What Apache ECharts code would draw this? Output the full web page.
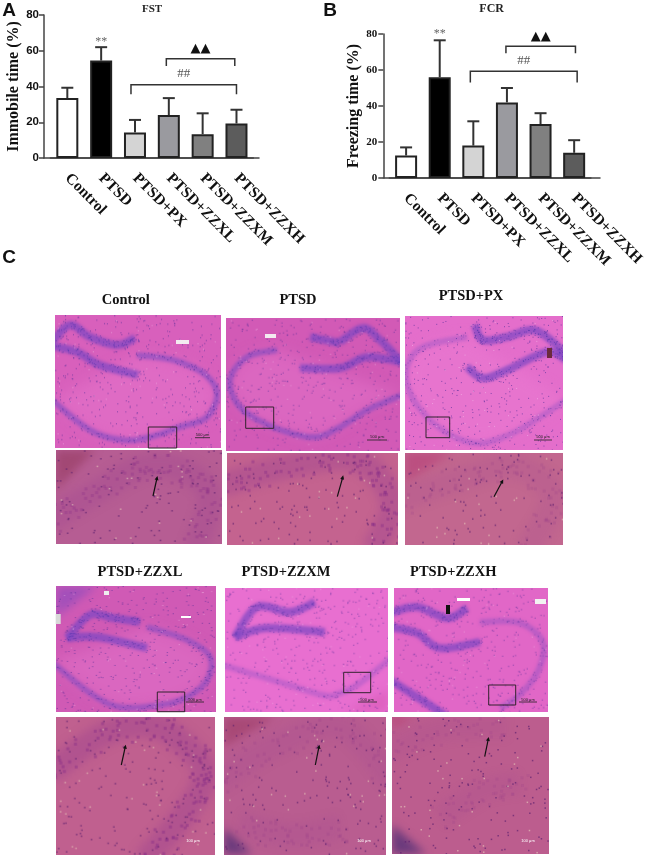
<!DOCTYPE html>
<html>
<head>
<meta charset="utf-8">
<title>FST / FCR</title>
<style>
html, body { margin: 0; padding: 0; background: #fff; }
#grafico { width: 647px; height: 856px; }
</style>
<script src="https://cdn.jsdelivr.net/npm/echarts@6/dist/echarts.min.js"></script>
</head>
<body>
<div id="grafico"></div>
<script>
// values
const groups = ['Control', 'PTSD', 'PTSD+PX', 'PTSD+ZZXL', 'PTSD+ZZXM', 'PTSD+ZZXH'];
const barColors = ['#ffffff', '#000000', '#d4d4d4', '#9a9a9f', '#808080', '#5c5c5c'];

const fstMean = [33.5, 54.5, 14.3, 24, 13.3, 19.3];
const fstUpper = [39.3, 62, 21.3, 33.5, 25, 27];
const fcrMean = [12.5, 56, 18, 42, 30, 14];
const fcrUpper = [17, 76.5, 31.5, 50, 36, 21];

const yTicks = [0, 20, 40, 60, 80];

// significance brackets: group from, group to, top value, foot value, label, label value
const fstBrackets = [[2, 5, 41, 35.6, '##', 47], [3, 5, 55.5, 51.5, '▲▲', 61]];
const fcrBrackets = [[2, 5, 59.3, 53, '##', 65.4], [3, 5, 73.2, 69.3, '▲▲', 78.5]];
const fstBracketNudge = [[-4, 0], [-2.5, -1.7]];
const fcrBracketNudge = [[-3, 3], [-1, 1.3]];
const fstStars = [[1, 65.5]];
const fcrStars = [[1, 80.7]];

// ---- micrograph panels (painted stand-ins for the photographs) ----
const panelTitles = [
  ['Control', 125.7, 300], ['PTSD', 298, 300], ['PTSD+PX', 471, 296],
  ['PTSD+ZZXL', 140, 572], ['PTSD+ZZXM', 286, 572], ['PTSD+ZZXH', 453.3, 572]
];
const overviewPanels = [
  { box: [55, 315.3, 220.7, 448.3], color: '#d860bc', inset: [148.3, 427, 176.7, 448], glow: true,
    blades: [[[52,342],[70,325],[90,337],[117,345],[135,338]], [[52,346],[77,352],[100,365],[138,375]]],
    arc: [[137,355],[173,360],[203,373],[217,393],[207,417],[180,427],[150,437],[123,440],[90,430],[52,400]],
    arcAlpha: 0.6, bar: [195, 210, 437.7], tag: [202.5, 434.5, '500 μm'] },
  { box: [225.7, 317.7, 399, 450.3], color: '#d25ab6', inset: [245.7, 407, 273.7, 428.3], glow: true,
    blades: [[[340,342],[363,328],[380,340],[402,362]], [[300,368],[340,368],[367,357],[402,362]], [[310,337],[340,343]]],
    arc: [[277,350],[247,357],[230,380],[240,407],[273,427],[313,437],[340,427],[367,410],[402,395]],
    arcAlpha: 0.6, bar: [367, 387, 440], tag: [377, 437, '500 μm'] },
  { box: [405, 316, 562.7, 449.7], color: '#e46ecb', inset: [426, 417, 449.7, 437.7], glow: true,
    blades: [[[475,325],[483,340],[507,337],[533,330],[553,342],[566,356]], [[467,367],[483,378],[507,370],[547,352],[566,360]]],
    arc: [[467,337],[423,347],[407,367],[410,393],[430,420],[457,438],[483,443],[513,433],[540,417],[566,400]],
    arcAlpha: 0.32, bar: [534, 552, 440], tag: [543, 437, '500 μm'] },
  { box: [55.7, 586, 215, 711.7], color: '#d05ab5', inset: [157.3, 692, 184.7, 711.7], glow: true,
    blades: [[[67,638],[90,615],[113,618],[140,622]], [[67,638],[97,637],[147,648]]],
    arc: [[147,627],[187,640],[210,657],[207,680],[187,697],[160,705],[120,707],[90,693],[52,662]],
    arcAlpha: 0.55, patch: [[[56,586],[97,586],[56,617]], '#a350ba'], bar: [186, 204, 702], tag: [195, 699.5, '500 μm'] },
  { box: [225.3, 587.7, 387.7, 711.7], color: '#e86fd0', inset: [343.7, 672.3, 370.7, 692.7],
    blades: [[[235,637],[257,607],[290,612],[315,602]], [[235,637],[267,628],[325,632]]],
    arc: [[222,665],[273,680],[323,695],[340,693],[360,683],[392,657]],
    arcAlpha: 0.32, patch: [[[345,712],[388,690],[388,712]], '#de62c0'], bar: [358, 377, 702], tag: [367, 699.5, '500 μm'] },
  { box: [393.7, 587.7, 547, 711.7], color: '#e167c7', inset: [488.7, 685, 515.7, 705],
    blades: [[[390,613],[417,607],[447,618],[467,608]], [[390,627],[417,633],[440,648],[480,642]], [[390,680],[417,697],[445,715]]],
    arc: [[480,622],[520,623],[543,643],[537,673],[517,697],[500,708]],
    arcAlpha: 0.38, bar: [519, 537, 702], tag: [528, 699.5, '500 μm'] }
];
const zoomPanels = [
  { box: [55.7, 450, 221.7, 544], color: '#b65d93',
    bands: [[[50,520],[100,490],[143,467],[183,470],[210,497],[195,550]]], bandAlpha: 0.55,
    patch: [[[56,450],[95,450],[56,490]], '#a24874'], arrow: [153, 496, 157, 478] },
  { box: [227, 452.7, 398, 544], color: '#c4638f',
    bands: [[[222,485],[273,470],[340,458],[373,470],[392,507],[373,550]]], bandAlpha: 0.8,
    arrow: [337.3, 496.7, 342.7, 477.3] },
  { box: [405, 452.7, 562.7, 544], color: '#c2678f',
    bands: [[[400,500],[467,477],[517,467],[553,497],[527,550]]], bandAlpha: 0.3,
    patch: [[[405,453],[452,453],[405,482]], '#bb4f80'], arrow: [494, 496.7, 502.3, 481.3] },
  { box: [55.7, 716.7, 214, 854], color: '#c0608f',
    bands: [[[50,772],[107,733],[157,727],[197,757],[203,783],[180,820],[145,860]]], bandAlpha: 0.85,
    arrow: [121.3, 765, 125.3, 746.7], tag: [193, 841, '100 μm'] },
  { box: [224, 716.7, 386, 854], color: '#b95d90',
    bands: [[[218,782],[273,747],[340,727],[392,780]], [[240,823],[290,835],[340,827]]], bandAlpha: 0.3,
    patch: [[[224,717],[275,717],[224,747]], '#a84976'], patch2: [[[224,828],[252,854],[224,854]], '#6a3a7c'],
    arrow: [315.3, 765, 319, 746.7], tag: [364, 841, '100 μm'] },
  { box: [392, 717, 548.3, 854], color: '#bc5d8e',
    bands: [[[386,752],[440,730],[507,727]], [[520,783],[483,790],[440,817]]], bandAlpha: 0.25,
    patch: [[[392,717],[412,717],[392,727]], '#b84878'], patch2: [[[392,825],[426,854],[392,854]], '#6a3a7c'],
    arrow: [484.7, 756.7, 488.3, 739], tag: [528, 841, '100 μm'] }
];
// odd bits in the sections: [x, y, w, h, color]
const sectionSpots = [
  [176, 340, 13, 4, '#f3eaf0'], [265, 334, 11, 4, '#f3eaf0'], [547, 348, 5, 10, '#6b2a3c'],
  [55.7, 614, 5, 10, '#d8d8d8'], [104, 591, 5, 4, '#eeeeee'], [181, 616, 10, 2, '#ffffff'],
  [446, 605, 4, 9, '#111111'], [457, 598, 13, 3, '#ffffff'], [535, 599, 11, 5, '#f2f2f2']
];

// texture only, repeatable on each run; no chart value comes from it
function grain(i) {
  const s = Math.sin(i * 12.9898) * 43758.5453;
  return s - Math.floor(s);
}

// Catmull-Rom through the hand-placed points
function smoothPath(pts) {
  const out = [];
  for (let i = 0; i < pts.length - 1; i++) {
    const p0 = pts[Math.max(i - 1, 0)], p1 = pts[i], p2 = pts[i + 1], p3 = pts[Math.min(i + 2, pts.length - 1)];
    for (let k = 0; k < 12; k++) {
      const t = k / 12, t2 = t * t, t3 = t2 * t;
      out.push([
        0.5 * (2 * p1[0] + (p2[0] - p0[0]) * t + (2 * p0[0] - 5 * p1[0] + 4 * p2[0] - p3[0]) * t2 + (3 * p1[0] - p0[0] - 3 * p2[0] + p3[0]) * t3),
        0.5 * (2 * p1[1] + (p2[1] - p0[1]) * t + (2 * p0[1] - 5 * p1[1] + 4 * p2[1] - p3[1]) * t2 + (3 * p1[1] - p0[1] - 3 * p2[1] + p3[1]) * t3)
      ]);
    }
  }
  out.push(pts[pts.length - 1]);
  return out;
}

function tracePath(ctx, pts) {
  ctx.beginPath();
  pts.forEach(function (p, i) { if (i) ctx.lineTo(p[0], p[1]); else ctx.moveTo(p[0], p[1]); });
}

function fillPatch(ctx, patch) {
  if (!patch) return;
  ctx.filter = 'blur(4px)';
  ctx.fillStyle = patch[1];
  tracePath(ctx, patch[0]);
  ctx.closePath();
  ctx.fill();
  ctx.filter = 'none';
}

function scatter(ctx, box, count, seed, color, size) {
  ctx.fillStyle = color;
  const w = box[2] - box[0], h = box[3] - box[1];
  for (let i = 0; i < count; i++) {
    ctx.fillRect(box[0] + grain(seed + i * 2.1) * w, box[1] + grain(seed + i * 3.7 + 5) * h, size, size);
  }
}

function grainyBand(ctx, pts, spread, seed, color, size, every) {
  ctx.fillStyle = color;
  pts.forEach(function (p, i) {
    for (let k = 0; k < every; k++) {
      const dx = (grain(seed + i * 1.3 + k * 7.1) - 0.5) * spread;
      const dy = (grain(seed + i * 2.9 + k * 4.3) - 0.5) * spread;
      ctx.fillRect(p[0] + dx, p[1] + dy, size, size);
    }
  });
}

function newPanelCanvas(p) {
  const c = document.createElement('canvas');
  c.width = Math.ceil(p.box[2] - p.box[0]);
  c.height = Math.ceil(p.box[3] - p.box[1]);
  const ctx = c.getContext('2d');
  ctx.translate(-p.box[0], -p.box[1]);
  ctx.fillStyle = p.color;
  ctx.fillRect(p.box[0], p.box[1], c.width, c.height);
  return { canvas: c, ctx: ctx };
}

function paintOverview(p, seed) {
  const t = newPanelCanvas(p), ctx = t.ctx;
  const area = (p.box[2] - p.box[0]) * (p.box[3] - p.box[1]);
  fillPatch(ctx, p.patch);
  const arc = smoothPath(p.arc);
  if (p.glow) {
    ctx.filter = 'blur(7px)';
    ctx.fillStyle = 'rgba(240,130,215,0.32)';
    tracePath(ctx, arc);
    ctx.closePath();
    ctx.fill();
  }
  ctx.filter = 'blur(1.5px)';
  ctx.lineCap = 'butt';
  ctx.strokeStyle = 'rgba(125,75,195,' + p.arcAlpha + ')';
  ctx.lineWidth = 6;
  tracePath(ctx, arc);
  ctx.stroke();
  ctx.strokeStyle = 'rgba(125,70,195,0.72)';
  ctx.lineWidth = 8;
  const blades = p.blades.map(smoothPath);
  blades.forEach(function (b) { tracePath(ctx, b); ctx.stroke(); });
  ctx.filter = 'none';
  scatter(ctx, p.box, area / 55, seed, 'rgba(70,40,150,0.6)', 1);
  scatter(ctx, p.box, area / 400, seed + 31, 'rgba(250,215,245,0.45)', 1);
  grainyBand(ctx, arc, 7, seed + 60, 'rgba(80,45,160,' + p.arcAlpha + ')', 1, 1);
  blades.forEach(function (b, i) { grainyBand(ctx, b, 9, seed + 90 + i, 'rgba(80,50,170,0.6)', 1, 2); });
  return t.canvas;
}

function paintZoom(p, seed) {
  const t = newPanelCanvas(p), ctx = t.ctx;
  const area = (p.box[2] - p.box[0]) * (p.box[3] - p.box[1]);
  fillPatch(ctx, p.patch);
  fillPatch(ctx, p.patch2);
  const bands = p.bands.map(smoothPath);
  ctx.filter = 'blur(4px)';
  ctx.lineCap = 'butt';
  ctx.strokeStyle = 'rgba(150,60,145,' + (p.bandAlpha * 0.4) + ')';
  ctx.lineWidth = 24;
  bands.forEach(function (b) { tracePath(ctx, b); ctx.stroke(); });
  ctx.filter = 'none';
  bands.forEach(function (b, i) {
    grainyBand(ctx, b, 26, seed + 40 + i, 'rgba(135,45,135,' + (p.bandAlpha * 0.5) + ')', 3, 2);
  });
  scatter(ctx, p.box, area / 150, seed, 'rgba(90,30,110,0.65)', 1.5);
  scatter(ctx, p.box, area / 800, seed + 17, 'rgba(235,210,190,0.6)', 1.5);
  return t.canvas;
}

function boxRect(b, style, z) {
  return { type: 'rect', z: z, shape: { x: b[0], y: b[1], width: b[2] - b[0], height: b[3] - b[1] }, style: style };
}

function panelImage(box, canvas) {
  return { type: 'image', z: 1, style: { image: canvas, x: box[0], y: box[1], width: canvas.width, height: canvas.height } };
}

function sectionText(x, y, text, font, color, z) {
  return { type: 'text', z: z, style: { x: x, y: y, text: text, font: font, fill: color, align: 'center', verticalAlign: 'middle' } };
}

function arrowMark(a) {
  const dx = a[2] - a[0], dy = a[3] - a[1], len = Math.sqrt(dx * dx + dy * dy);
  const ux = dx / len, uy = dy / len;
  return [
    { type: 'line', z: 6, shape: { x1: a[0], y1: a[1], x2: a[2], y2: a[3] }, style: { stroke: '#111', lineWidth: 1.2 } },
    { type: 'polygon', z: 6, shape: { points: [
      [a[2] + ux * 2, a[3] + uy * 2],
      [a[2] - ux * 2 - uy * 2, a[3] - uy * 2 + ux * 2],
      [a[2] - ux * 2 + uy * 2, a[3] - uy * 2 - ux * 2]
    ] }, style: { fill: '#111' } }
  ];
}

const panelGraphics = [];
overviewPanels.forEach(function (p, i) {
  panelGraphics.push(panelImage(p.box, paintOverview(p, 11 + i * 101)));
  panelGraphics.push(boxRect(p.inset, { fill: null, stroke: '#33222e', lineWidth: 1 }, 6));
  panelGraphics.push({ type: 'line', z: 6, shape: { x1: p.bar[0], y1: p.bar[2], x2: p.bar[1], y2: p.bar[2] }, style: { stroke: '#222', lineWidth: 0.8 } });
  panelGraphics.push(sectionText(p.tag[0], p.tag[1], p.tag[2], '4px "Liberation Sans"', '#222', 6));
});
zoomPanels.forEach(function (p, i) {
  panelGraphics.push(panelImage(p.box, paintZoom(p, 503 + i * 97)));
  arrowMark(p.arrow).forEach(function (m) { panelGraphics.push(m); });
  if (p.tag) panelGraphics.push(sectionText(p.tag[0], p.tag[1], p.tag[2], '4px "Liberation Sans"', '#fff', 6));
});
sectionSpots.forEach(function (s) {
  panelGraphics.push(boxRect([s[0], s[1], s[0] + s[2], s[1] + s[3]], { fill: s[4] }, 5));
});
panelTitles.forEach(function (t) {
  panelGraphics.push(sectionText(t[1], t[2], t[0], 'bold 14.5px "Liberation Serif"', '#111', 6));
});
[['A', 9, 11], ['B', 330, 11], ['C', 9, 258]].forEach(function (l) {
  panelGraphics.push(sectionText(l[1], l[2], l[0], 'bold 19px "Liberation Sans"', '#111', 6));
});
panelGraphics.push(sectionText(152, 9, 'FST', 'bold 11px "Liberation Serif"', '#222', 6));
panelGraphics.push(sectionText(491.7, 9, 'FCR', 'bold 12px "Liberation Serif"', '#222', 6));

// ---- chart pieces ----
function barSeries(values, axis) {
  return {
    type: 'bar', xAxisIndex: axis, yAxisIndex: axis, barWidth: 22,
    data: values.map(function (v, i) {
      return { value: v, itemStyle: { color: barColors[i], borderColor: '#222', borderWidth: 2 } };
    })
  };
}

function errorSeries(means, uppers, axis) {
  return {
    type: 'custom', xAxisIndex: axis, yAxisIndex: axis, clip: false, z: 3,
    data: means.map(function (m, i) { return [i, m, uppers[i]]; }),
    renderItem: function (params, api) {
      const low = api.coord([api.value(0), api.value(1)]);
      const high = api.coord([api.value(0), api.value(2)]);
      const stroke = { stroke: '#333', lineWidth: 2 };
      return { type: 'group', children: [
        { type: 'line', shape: { x1: low[0], y1: low[1], x2: high[0], y2: high[1] }, style: stroke },
        { type: 'line', shape: { x1: high[0] - 6, y1: high[1], x2: high[0] + 6, y2: high[1] }, style: stroke }
      ] };
    }
  };
}

function bracketSeries(brackets, nudge, axis) {
  return {
    type: 'custom', xAxisIndex: axis, yAxisIndex: axis, clip: false, z: 4,
    data: brackets.map(function (b, i) { return [b[0], b[1], b[2], b[3], b[5], i]; }),
    renderItem: function (params, api) {
      const b = brackets[params.dataIndex];
      const n = nudge[params.dataIndex];
      const footL = api.coord([api.value(0), api.value(3)]);
      const footR = api.coord([api.value(1), api.value(3)]);
      const topY = api.coord([api.value(0), api.value(2)])[1];
      const textY = api.coord([api.value(0), api.value(4)])[1];
      const xl = footL[0] + n[0], xr = footR[0] + n[1];
      const isHash = b[4] === '##';
      return { type: 'group', children: [
        { type: 'polyline', shape: { points: [[xl, footL[1]], [xl, topY], [xr, topY], [xr, footR[1]]] },
          style: { stroke: '#333', lineWidth: 1.5, fill: null } },
        { type: 'text', style: { x: (xl + xr) / 2, y: textY, text: b[4], align: 'center', verticalAlign: 'middle',
          font: isHash ? '13px "Liberation Serif"' : '13px "DejaVu Sans"', fill: isHash ? '#555' : '#111' } }
      ] };
    }
  };
}

function starSeries(points, axis) {
  return {
    type: 'custom', xAxisIndex: axis, yAxisIndex: axis, clip: false, z: 4,
    data: points,
    renderItem: function (params, api) {
      const p = api.coord([api.value(0), api.value(1)]);
      return { type: 'text', style: { x: p[0], y: p[1] + 1, text: '**', align: 'center', verticalAlign: 'middle',
        font: '12px "Liberation Serif"', fill: '#666' } };
    }
  };
}

function categoryAxis(grid) {
  return {
    type: 'category', gridIndex: grid, data: groups,
    axisLine: { lineStyle: { color: '#444', width: 1.5 } },
    axisTick: { alignWithLabel: true, length: 5, lineStyle: { color: '#444', width: 1.5 } },
    axisLabel: { rotate: -45, interval: 0, margin: 18, color: '#111',
      fontFamily: 'Liberation Serif', fontWeight: 'bold', fontSize: 15.5 }
  };
}

// only the long baseline: it runs past the first and last band on both sides
function baselineAxis(grid) {
  return {
    type: 'category', gridIndex: grid, data: groups,
    axisLine: { lineStyle: { color: '#444', width: 1.5 } },
    axisTick: { show: false }, axisLabel: { show: false }
  };
}

function valueAxis(grid, name, offset, gap, font, size, margin) {
  return {
    type: 'value', gridIndex: grid, min: 0, max: yTicks[yTicks.length - 1], interval: 20, offset: offset,
    splitLine: { show: false },
    axisLine: { show: true, lineStyle: { color: '#444', width: 1.5 } },
    axisTick: { show: true, length: 5, lineStyle: { color: '#444', width: 1.5 } },
    axisLabel: { margin: margin, color: '#111', fontFamily: font, fontWeight: 'bold', fontSize: size },
    name: name, nameLocation: 'middle', nameGap: gap, nameRotate: 90,
    nameTextStyle: { color: '#111', fontFamily: 'Liberation Serif', fontWeight: 'bold', fontSize: 16 }
  };
}

const chartDom = document.getElementById('grafico');
const myChart = echarts.init(chartDom);

const option = {
  animation: false,
  grid: [
    { left: 50.4, top: 15, width: 203, height: 143 },
    { left: 44, top: 15, width: 215, height: 143 },
    { left: 389.3, top: 34, width: 204.7, height: 144 },
    { left: 383.3, top: 34, width: 216.7, height: 144 }
  ],
  xAxis: [categoryAxis(0), baselineAxis(1), categoryAxis(2), baselineAxis(3)],
  yAxis: [
    valueAxis(0, 'Immobile time (%)', 6.4, 22, 'Liberation Sans', 11.5, 5),
    { type: 'value', gridIndex: 1, min: 0, max: 80, show: false },
    valueAxis(2, 'Freezing time (%)', 6, 21, 'Liberation Serif', 11, 6),
    { type: 'value', gridIndex: 3, min: 0, max: 80, show: false }
  ],
  graphic: { elements: panelGraphics },
  series: [
    barSeries(fstMean, 0),
    errorSeries(fstMean, fstUpper, 0),
    bracketSeries(fstBrackets, fstBracketNudge, 0),
    starSeries(fstStars, 0),
    barSeries(fcrMean, 2),
    errorSeries(fcrMean, fcrUpper, 2),
    bracketSeries(fcrBrackets, fcrBracketNudge, 2),
    starSeries(fcrStars, 2)
  ]
};

option && myChart.setOption(option);
</script>
</body>
</html>
